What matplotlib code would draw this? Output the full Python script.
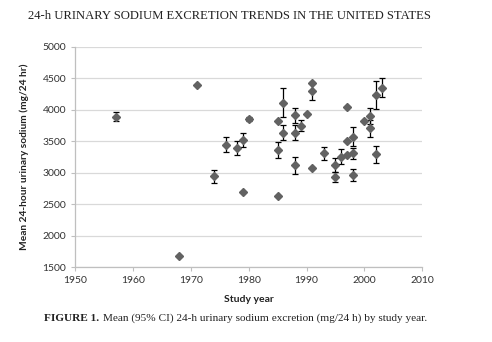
import matplotlib
matplotlib.use("Agg")
import matplotlib.pyplot as plt
import numpy as np

years = [1957, 1968, 1971, 1974, 1976, 1978, 1979, 1979, 1980,
         1985, 1985, 1985, 1986, 1986, 1988, 1988, 1988, 1989, 1990,
         1991, 1991, 1991, 1993, 1995, 1995, 1996, 1997, 1997, 1997,
         1998, 1998, 1998, 2000, 2001, 2001, 2002, 2002, 2003]
sodium = [3890, 1680, 4390, 2945, 3450, 3390, 3520, 2690, 3850,
          3825, 3362, 2640, 4115, 3640, 3917, 3640, 3118, 3748, 3940,
          4420, 4298, 3076, 3310, 3124, 2938, 3260, 3278, 3500, 4049,
          3573, 3310, 2965, 3822, 3900, 3706, 4235, 3294, 4354]
ci = [70, 0, 0, 100, 120, 110, 110, 0, 30,
      0, 130, 0, 225, 120, 120, 125, 135, 90, 0,
      0, 145, 0, 105, 105, 80, 125, 0, 0, 0,
      150, 90, 100, 0, 125, 130, 220, 130, 145]

x_ticks = [1950, 1960, 1970, 1980, 1990, 2000, 2010]
y_ticks = [1500, 2000, 2500, 3000, 3500, 4000, 4500, 5000]

fig = plt.figure(figsize=(4.92, 3.42), dpi=100)
ax = fig.add_axes([0.153, 0.218, 0.705, 0.645])

yr = np.array(years); na = np.array(sodium); e = np.array(ci)
m = e > 0
ax.errorbar(yr[m], na[m], yerr=e[m], fmt='none', ecolor='black',
            elinewidth=0.9, capsize=2, capthick=0.9, zorder=2)
ax.plot(yr, na, linestyle='none', marker='D', markersize=4.5,
        color='#626262', zorder=3)

ax.set_xlim(1950, 2010)
ax.set_ylim(1500, 5000)
ax.set_xticks(x_ticks)
ax.set_yticks(y_ticks)
ax.grid(axis='y', color='#d9d9d9', linewidth=0.9, zorder=0)
ax.set_axisbelow(True)
for s in ['top', 'right']:
    ax.spines[s].set_visible(False)
for s in ['left', 'bottom']:
    ax.spines[s].set_color('#bfbfbf')
    ax.spines[s].set_linewidth(0.9)
ax.tick_params(axis='both', colors='#bfbfbf', length=3, width=0.8,
               labelcolor='#333333', labelsize=7.5)
for lab in ax.get_xticklabels() + ax.get_yticklabels():
    lab.set_fontfamily('Lato')

ax.set_xlabel('Study year', fontsize=7.5, fontweight='bold', family='Lato',
              color='#222222', labelpad=7)
ax.set_ylabel('Mean 24-hour urinary sodium (mg/24 hr)', fontsize=7.3,
              fontweight='bold', family='Lato', color='#222222', labelpad=10)

fig.text(0.057, 0.953, '24-h URINARY SODIUM EXCRETION TRENDS IN THE UNITED STATES',
         fontsize=9.1, family='Liberation Serif', color='#222222', va='center', ha='left')
t1 = fig.text(0.089, 0.07, 'FIGURE 1.', fontsize=8.1, family='Liberation Serif',
              fontweight='bold', color='#222222', va='center', ha='left')
fig.canvas.draw()
bb = t1.get_window_extent()
x2 = (bb.x1 + 4) / fig.bbox.width
fig.text(x2, 0.07, 'Mean (95% CI) 24-h urinary sodium excretion (mg/24 h) by study year.',
         fontsize=8.1, family='Liberation Serif', color='#222222', va='center', ha='left')

fig.savefig('out.png', dpi=100)
